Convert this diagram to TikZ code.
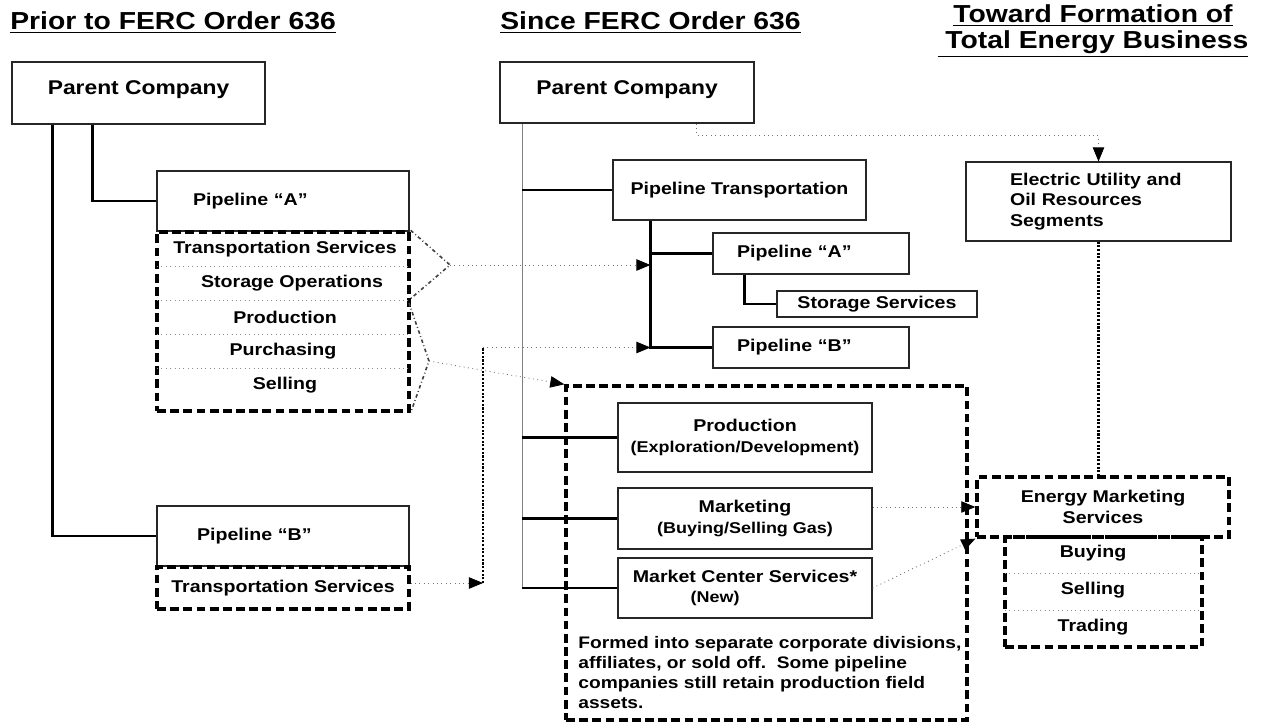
\documentclass[tikz,border=0pt]{standalone}
\usepackage{fontspec}
\setmainfont{Liberation Sans}[FakeStretch=1.15]
\usetikzlibrary{arrows.meta}

\newcommand\boxfont{\fontsize{9.7}{11.5}\selectfont\bfseries}
\newcommand\subfont{\fontsize{8.9}{10}\selectfont}

\tikzset{
  orgbox/.style={draw=black!85, line width=0.6pt, inner sep=0pt, align=center, font=\boxfont},
  grpbox/.style={draw=black, line width=1.9pt, dash pattern=on 5pt off 2.5pt, inner sep=0pt, align=center, font=\boxfont},
  row/.style={inner sep=0pt, font=\boxfont},
  sep/.style={draw=black!45, line width=0.5pt, dotted},
  conn/.style={draw=black, line width=1.4pt},
  spine/.style={draw=black!50, line width=1pt},
  dotarrow/.style={draw=black!55, line width=0.5pt, dotted, -{Triangle[length=8pt,width=6.5pt,color=black]}},
  vdots/.style={draw=black, line width=1.4pt, dash pattern=on 1.2pt off 0.9pt},
  brace/.style={draw=black!75, line width=0.9pt, dash pattern=on 2pt off 1.5pt on 0.5pt off 1.5pt},
  heading/.style={inner sep=0pt, font=\fontsize{14}{14.5}\selectfont\bfseries}
}

\begin{document}
\begin{tikzpicture}[x=0.2mm, y=-0.2mm]
\useasboundingbox (0,0) rectangle (1262,723);

% headings
\node[heading, anchor=base west] (h1) at (10,30) {\underline{Prior to FERC Order 636}};
\node[heading, anchor=base west] (h2) at (500,30) {\underline{Since FERC Order 636}};
\node[heading, align=center] (h3) at (1093,31) {\underline{Toward Formation of}\\\underline{\ Total Energy Business}};

% prior to 636
\node[orgbox, minimum width=50.6mm, minimum height=12.4mm, text depth=6pt, font=\fontsize{11.3}{13}\selectfont\bfseries] (pcA) at (138.5,93) {Parent Company};
\node[orgbox, minimum width=50.4mm, minimum height=12mm, text width=36mm, align=left] (plAl) at (283,201) {Pipeline “A”};
\node[grpbox, minimum width=50.4mm, minimum height=35.8mm] (svcA) at (283,321.5) {};
\foreach \y in {266,300,334,368} \draw[sep] (157,\y) -- (409,\y);
\node[row] (tsA) at (285,249) {Transportation Services};
\node[row] (stA) at (292,283) {Storage Operations};
\node[row] (prA) at (285,317) {Production};
\node[row] (puA) at (283,351) {Purchasing};
\node[row] (seA) at (285,385) {Selling};
\node[orgbox, minimum width=50.4mm, minimum height=12mm, text width=34.4mm, align=left] (plBl) at (283,536) {Pipeline “B”};
\node[grpbox, minimum width=50.4mm, minimum height=8.4mm] (tsB) at (283,588) {Transportation Services};

\draw[conn] ([xshift=16.2mm]pcA.south west) |- (plAl.west);
\draw[conn] ([xshift=8.2mm]pcA.south west) |- (plBl.west);

\coordinate (brA) at (450,265);
\coordinate (brB) at (429,361);
\draw[brace] (svcA.north east) -- (brA) -- (409,300);
\draw[brace] (409,303) -- (brB) -- (svcA.south east);

% since 636
\node[orgbox, minimum width=50.8mm, minimum height=12.2mm, text depth=6pt, font=\fontsize{11.3}{13}\selectfont\bfseries] (pcB) at (627,92.5) {Parent Company};
\coordinate (sp) at ([xshift=4.6mm]pcB.south west);
\node[orgbox, minimum width=50.6mm, minimum height=12mm] (pt) at (739.5,190) {Pipeline Transportation};
\coordinate (bar) at ([xshift=7.6mm]pt.south west);
\node[orgbox, minimum width=39.2mm, minimum height=8.2mm, text width=29.6mm, align=left] (plA) at (811,253.5) {Pipeline “A”};
\node[orgbox, minimum width=40mm, minimum height=5.2mm] (stor) at (877,304) {Storage Services};
\node[orgbox, minimum width=39.2mm, minimum height=8.2mm, text width=29.6mm, align=left] (plB) at (811,347.5) {Pipeline “B”};

\node[grpbox, minimum width=80.2mm, minimum height=66.8mm] (grp) at (766.5,553) {};
\node[orgbox, minimum width=50.8mm, minimum height=13.8mm] (prod) at (745,437.5) {Production\\{\subfont(Exploration/Development)}};
\node[orgbox, minimum width=50.8mm, minimum height=12.2mm] (mkt) at (745,518.5) {Marketing\\{\subfont(Buying/Selling Gas)}};
\node[orgbox, minimum width=50.8mm, minimum height=12mm] (mcs) at (745,588) {Market Center Services*\\{\subfont\hspace*{-12mm}(New)}};
\node[anchor=north west, align=left, inner sep=0pt, font=\fontsize{9.5}{11.34}\selectfont\bfseries] (note) at (578,636) {Formed into separate corporate divisions,\\affiliates, or sold off.\ \ Some pipeline\\companies still retain production field\\assets.};

\draw[spine] (sp) -- (sp |- mcs.west);
\draw[conn, line width=1pt] (sp |- pt.west) -- (pt.west);
\draw[conn] (sp |- prod.west) -- (prod.west);
\draw[conn] (sp |- mkt.west) -- (mkt.west);
\draw[conn] (sp |- mcs.west) -- (mcs.west);
\draw[conn] (bar) |- (plB.west);
\draw[conn] (bar |- plA.west) -- (plA.west);
\draw[conn] ([xshift=6.4mm]plA.south west) |- (stor.west);

% toward total energy business
\node[orgbox, minimum width=53mm, minimum height=15.8mm, text width=35.4mm, align=left] (eu) at (1098.5,201.5) {Electric Utility and\\Oil Resources\\Segments};
\node[grpbox, minimum width=39.4mm, minimum height=22mm] (bst) at (1103.5,592) {};
\foreach \y in {573,610} \draw[sep] (1005,\y) -- (1202,\y);
\node[row] (buy) at (1093,553) {Buying};
\node[row] (sell) at (1093,590) {Selling};
\node[row] (trade) at (1093,627) {Trading};
\node[grpbox, minimum width=50.4mm, minimum height=12mm] (ems) at (1103,507) {Energy Marketing\\Services};

% moves
\draw[dotarrow] (brA) -- (brA -| bar);
\draw[dotarrow] (brB) -- (grp.north west);
\coordinate (cB) at (483,583);
\draw[dotarrow] (tsB.east |- cB) -- (cB);
\draw[vdots] (cB) -- (cB |- plB.west);
\draw[dotarrow] (cB |- plB.west) -- (plB.west -| bar);
\coordinate (euin) at ([xshift=39.4mm]pcB.south west);
\draw[dotarrow] (euin) -- ++(0,12) -| (eu.north);
\draw[vdots] (eu.south) -- (eu.south |- ems.north);
\draw[dotarrow] (ems.west -| mkt.east) -- (ems.west);
\draw[dotarrow] (mcs.east) -- (ems.south west);
\end{tikzpicture}
\end{document}
